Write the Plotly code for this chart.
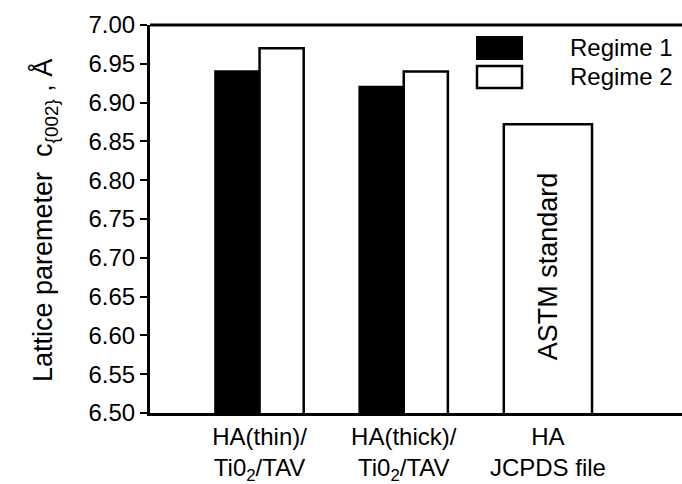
import plotly.graph_objects as go

categories = ["HA(thin)/<br>Ti0<sub>2</sub>/TAV", "HA(thick)/<br>Ti0<sub>2</sub>/TAV", "HA<br>JCPDS file"]
regime1 = [6.94, 6.92]
regime2 = [6.97, 6.94]
astm = [6.872]
yticks = [6.50, 6.55, 6.60, 6.65, 6.70, 6.75, 6.80, 6.85, 6.90, 6.95, 7.00]

W, H = 682, 484
L, R, T, B = 150, 0, 25, 71
pw, ph = W - L - R, H - T - B

def px(x):
    return (x - L) / pw

def py(y):
    return (H - B - y) / ph

FONT = "Liberation Sans, Arial, sans-serif"
bw = 0.306

fig = go.Figure()
fig.add_bar(x=[0, 1], y=regime1, width=bw, offset=-bw, base=0,
            marker=dict(color="black", line=dict(color="black", width=2.5)),
            name="Regime 1", showlegend=False)
fig.add_bar(x=[0, 1], y=regime2, width=bw, offset=0, base=0,
            marker=dict(color="white", line=dict(color="black", width=2.5)),
            name="Regime 2", showlegend=False)
fig.add_bar(x=[2], y=astm, width=2 * bw, offset=-bw, base=0,
            marker=dict(color="white", line=dict(color="black", width=2.5)),
            name="ASTM standard", showlegend=False)

fig.add_annotation(x=2, y=6.689, xref="x", yref="y", text="ASTM standard",
                   textangle=-90, showarrow=False,
                   font=dict(family=FONT, size=27, color="black"))

# legend swatches
fig.add_shape(type="rect", xref="paper", yref="paper",
              x0=px(477), x1=px(522), y0=py(59), y1=py(37),
              fillcolor="black", line=dict(color="black", width=2))
fig.add_shape(type="rect", xref="paper", yref="paper",
              x0=px(477), x1=px(522), y0=py(88), y1=py(66),
              fillcolor="white", line=dict(color="black", width=2.5))
fig.add_annotation(x=px(568), y=py(47), xref="paper", yref="paper", text="Regime 1",
                   xanchor="left", yanchor="middle", showarrow=False,
                   font=dict(family=FONT, size=24, color="black"))
fig.add_annotation(x=px(568), y=py(77), xref="paper", yref="paper", text="Regime 2",
                   xanchor="left", yanchor="middle", showarrow=False,
                   font=dict(family=FONT, size=24, color="black"))

# y title
fig.add_annotation(x=px(44), y=py(221), xref="paper", yref="paper",
                   text="Lattice paremeter  c<sub>{002}</sub> , Å",
                   textangle=-90, showarrow=False, xanchor="center", yanchor="middle",
                   font=dict(family=FONT, size=27, color="black"))

# top border
fig.add_shape(type="line", xref="paper", yref="paper", x0=0, x1=1, y0=1, y1=1,
              line=dict(color="black", width=3))

fig.update_layout(
    width=W, height=H,
    margin=dict(l=L, r=R, t=T, b=B),
    paper_bgcolor="white", plot_bgcolor="white",
    barmode="overlay", showlegend=False,
    font=dict(family=FONT, size=24, color="black"),
    xaxis=dict(range=[-0.76, 2.93], tickvals=[0, 1, 2], ticktext=categories,
               showgrid=False, zeroline=False, showline=True, linecolor="black",
               linewidth=3, ticks="", tickfont=dict(family=FONT, size=24)),
    yaxis=dict(range=[6.5, 7.0], tickvals=yticks,
               ticktext=[f"{v:.2f}" for v in yticks],
               showgrid=False, zeroline=False, showline=True, linecolor="black",
               linewidth=3, ticks="outside", ticklen=7, tickwidth=2, tickcolor="black",
               tickfont=dict(family=FONT, size=24)),
)

fig.write_html("out.html", config={"displayModeBar": False},
               post_script="document.body.style.margin='0';document.body.style.overflow='hidden';")
